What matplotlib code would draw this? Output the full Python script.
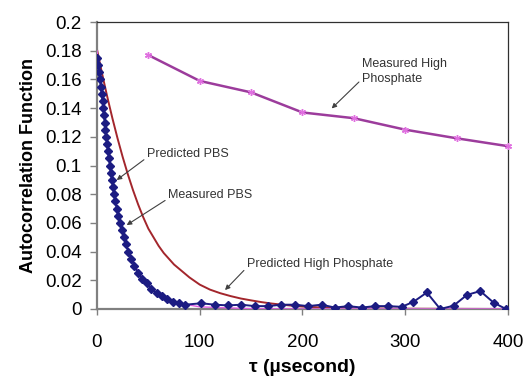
import matplotlib
matplotlib.use("Agg")
import matplotlib.pyplot as plt

plt.rcParams['font.family'] = ['Liberation Sans', 'DejaVu Sans']

# Measured PBS (diamonds)
pbs_meas_t = [0.3, 1.2, 2.1, 2.9, 3.8, 4.7, 5.5, 6.2, 6.9, 7.6, 8.3, 9.1, 9.9, 10.8,
              11.7, 12.6, 13.5, 14.6, 15.6, 16.6, 17.8, 19.2, 20.6, 22.2, 24.0, 26.0,
              28.2, 30.6, 33.2, 36.5, 40.0, 44.0, 48.5, 53.0, 58.0, 63.0, 68.5, 74.0,
              80.0, 86.0, 101.5, 114.5, 127.5, 140.5, 153.5, 166.5, 179.5, 192.5,
              205.5, 218.5, 231.5, 244.5, 257.5, 270.5, 283.5, 296.5, 308.0, 321.0,
              334.0, 347.0, 360.0, 373.0, 386.0, 398.0]
pbs_meas_y = [0.175, 0.170, 0.165, 0.160, 0.155, 0.150, 0.145, 0.140, 0.135, 0.130,
              0.125, 0.120, 0.115, 0.110, 0.105, 0.100, 0.095, 0.090, 0.085, 0.080,
              0.075, 0.070, 0.065, 0.060, 0.055, 0.050, 0.045, 0.040, 0.035, 0.030,
              0.025, 0.021, 0.018, 0.014, 0.011, 0.009, 0.007, 0.005, 0.004, 0.003,
              0.004, 0.003, 0.0025, 0.003, 0.002, 0.002, 0.003, 0.003, 0.002, 0.003,
              0.001, 0.002, 0.001, 0.002, 0.002, 0.0015, 0.005, 0.0115, 0.0, 0.0023,
              0.0098, 0.0125, 0.0044, 0.0]

# Predicted PBS (thin pink line)
pbs_pred_t = [0, 5, 10, 15, 20, 25, 30, 40, 50, 60, 70, 80, 100, 150, 200, 400]
pbs_pred_y = [0.180, 0.148, 0.114, 0.089, 0.069, 0.055, 0.042, 0.026, 0.016, 0.010,
              0.006, 0.004, 0.0015, 0.0002, 0.0, 0.0]

# Predicted High Phosphate (dark red line)
hp_pred_t = [0, 5, 10, 15, 20, 25, 30, 35, 40, 45, 50, 55, 60, 65, 70, 75, 80, 85,
             90, 95, 100, 110, 120, 130, 140, 150, 160, 170, 180, 190, 200, 220, 250,
             300, 400]
hp_pred_y = [0.181, 0.164, 0.148, 0.133, 0.119, 0.106, 0.094, 0.083, 0.073, 0.064,
             0.056, 0.050, 0.044, 0.039, 0.035, 0.031, 0.028, 0.025, 0.022, 0.0195,
             0.017, 0.0135, 0.011, 0.009, 0.0073, 0.006, 0.0048, 0.0038, 0.003,
             0.0023, 0.0017, 0.001, 0.0005, 0.0002, 0.0]

# Measured High Phosphate
hp_meas_t = [50, 100, 150, 200, 250, 300, 350, 400]
hp_meas_y = [0.177, 0.159, 0.151, 0.137, 0.133, 0.125, 0.119, 0.1135]

fig = plt.figure(figsize=(5.27, 3.81), dpi=100)
ax = fig.add_axes([0.184, 0.189, 0.780, 0.753])

ax.plot(hp_pred_t, hp_pred_y, color='#a3262c', lw=1.4, zorder=2)
ax.plot(pbs_pred_t, pbs_pred_y, color='#e060e0', lw=1.0, zorder=3)
ax.plot(pbs_meas_t, pbs_meas_y, color='#1c1c82', lw=1.4, marker='D', ms=3.6,
        mfc='#1c1c82', mec='#1c1c82', zorder=4)
ax.plot(hp_meas_t, hp_meas_y, color='#9c3c9c', lw=1.8, marker=(6, 2, 0), ms=5,
        mew=1, mec='#e070e0', zorder=4, clip_on=False)

ax.set_xlim(0, 400)
ax.set_ylim(0, 0.2)
ax.set_xticks([0, 100, 200, 300, 400])
ax.set_yticks([0, 0.02, 0.04, 0.06, 0.08, 0.1, 0.12, 0.14, 0.16, 0.18, 0.2])
ax.set_yticklabels(['%g' % v for v in ax.get_yticks()])

for s in ['left', 'bottom']:
    ax.spines[s].set_color('#808080')
    ax.spines[s].set_linewidth(1.6)
for s in ['top', 'right']:
    ax.spines[s].set_color('#303030')
    ax.spines[s].set_linewidth(0.9)

ax.tick_params(axis='y', direction='out', length=5, width=1, color='#808080',
               labelsize=13.5, pad=6)
ax.tick_params(axis='x', direction='out', length=4, width=1, color='#808080',
               labelsize=13.5, pad=14)

ax.set_ylabel('Autocorrelation Function', fontsize=13, fontweight='bold', labelpad=6)
ax.set_xlabel('\u03c4 (\u00b5second)', fontsize=14, fontweight='bold', labelpad=6)

arrow = dict(arrowstyle='-|>', color='#404040', lw=0.8, mutation_scale=7,
             shrinkA=0, shrinkB=0)
ax.annotate('Predicted PBS', xy=(19.2, 0.0899), xytext=(48.4, 0.108),
            fontsize=9, color='#333333', va='center', ha='left',
            arrowprops=dict(arrow, relpos=(0, 0.2)))
ax.annotate('Measured PBS', xy=(28.9, 0.0585), xytext=(69, 0.0794),
            fontsize=9, color='#333333', va='center', ha='left',
            arrowprops=dict(arrow, relpos=(0, 0.2)))
ax.annotate('Predicted High Phosphate', xy=(124.6, 0.0132), xytext=(145.7, 0.0314),
            fontsize=9, color='#333333', va='center', ha='left',
            arrowprops=dict(arrow, relpos=(0, 0.2)))
ax.annotate('Measured High\nPhosphate', xy=(228.4, 0.1398), xytext=(257.6, 0.1657),
            fontsize=9, color='#333333', va='center', ha='left', linespacing=1.3,
            arrowprops=dict(arrow, relpos=(0, 0.2)))

fig.savefig('out.png', dpi=100)
